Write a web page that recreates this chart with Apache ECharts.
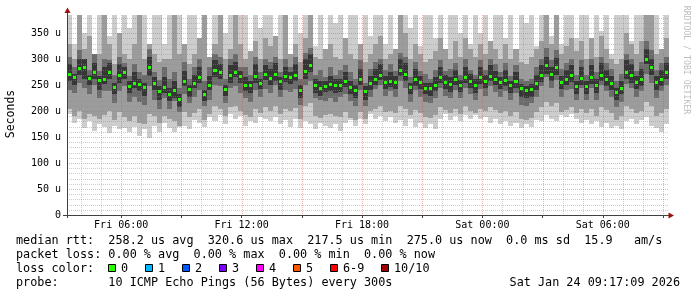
<!DOCTYPE html>
<html>
<head>
<meta charset="utf-8">
<script src="https://cdn.jsdelivr.net/npm/echarts@6/dist/echarts.min.js"></script>
<style>html,body{margin:0;padding:0;background:#fff}#c{width:697px;height:297px}</style>
</head>
<body>
<div id="c"></div>
<script>
// ---- time layout: hours since Fri 00:00, 15-minute columns ----
const startHour = 3.3;
const stepHour = 0.25;
const endHour = 33.3;

// ---- median RTT (microseconds) ----
const median = [272,265,283,285,264,275,260,262,275,246,270,276,249,254,252,246,285,255,238,247,
232,240,224,258,243,255,265,232,250,280,275,242,270,276,268,250,250,268,254,272,
264,272,258,268,266,270,240,278,288,250,244,248,252,250,250,258,246,240,262,238,
255,262,270,256,258,256,280,272,246,262,256,245,244,250,266,256,252,262,250,266,258,
250,265,258,268,262,256,260,250,258,244,240,242,255,270,288,272,285,256,262,270,
248,264,248,265,250,270,262,254,236,244,275,270,256,261,300,285,256,262,275];

// ---- smoke bands (outermost -> innermost), high and low edges ----
const outerHi = [385,330,385,350,385,310,385,385,345,385,320,385,360,385,335,385,300,385,385,330,
385,360,385,320,385,385,340,385,305,385,385,350,385,330,385,385,315,385,360,385,
385,340,385,385,310,385,350,385,385,325,385,300,385,370,385,335,385,385,315,385,
345,385,385,330,385,305,385,385,360,385,325,385,385,340,385,310,385,385,350,385,330,
385,350,385,315,385,385,340,385,300,385,370,385,325,385,385,345,385,330,385,385,
340,385,385,320,385,355,385,310,385,385,385,335,385,385,385,350,385,300,385];
const outerLo = [195,178,185,168,180,162,175,170,158,172,165,168,160,170,152,165,148,172,160,178,
168,160,170,172,165,182,178,170,188,180,192,175,195,185,190,172,180,178,188,185,
180,188,175,182,170,185,168,180,175,165,178,172,168,175,162,178,182,172,185,176,
195,185,190,180,188,178,182,172,185,170,178,168,175,165,185,195,182,190,180,192,185,
192,185,188,178,185,176,180,172,178,168,175,170,182,180,192,185,180,192,188,195,
185,178,182,175,180,170,178,168,172,165,180,185,175,182,188,172,168,160,176];
const midHi = [330,300,385,320,345,300,310,385,330,290,350,310,300,330,385,300,330,310,295,300,
300,385,310,330,290,310,340,385,305,330,385,300,320,385,330,300,315,335,300,340,
325,345,300,385,310,330,295,340,385,305,300,320,330,305,300,340,310,300,330,295,
310,330,345,300,310,320,385,350,300,330,310,295,300,315,340,320,300,335,305,340,320,
305,330,310,335,320,300,330,300,320,295,290,305,320,335,385,330,385,310,325,340,
315,335,300,340,305,345,320,300,290,300,350,330,310,335,385,385,310,320,340];
const midLo = [205,190,200,185,195,190,185,192,200,182,198,188,180,190,178,175,195,190,178,190,
185,180,172,198,188,196,205,182,195,210,205,190,208,210,200,192,188,205,196,208,
200,210,195,205,200,206,185,210,215,190,186,192,195,190,188,198,186,182,198,185,
200,205,210,198,200,196,210,205,192,202,196,188,186,192,208,202,196,205,195,210,200,
196,205,200,208,202,196,200,190,198,185,182,186,198,208,218,210,215,198,202,208,
196,205,196,205,190,208,202,196,182,190,210,205,196,200,218,210,190,196,205];
const innerHi = [305,285,318,300,280,310,278,300,298,270,305,292,268,290,275,270,320,275,260,285,
262,275,245,295,262,285,300,258,285,310,305,262,300,310,285,285,270,305,275,300,
295,305,275,300,285,305,262,312,322,270,280,265,285,270,280,288,275,262,298,255,
282,295,300,280,290,278,312,305,265,295,278,272,262,280,298,278,282,292,270,300,280,
270,298,280,300,290,275,292,268,288,262,258,262,285,300,322,298,318,282,292,300,
270,298,270,300,275,305,292,282,258,272,310,300,278,295,335,318,280,292,305];
const innerLo = [240,235,255,245,232,250,225,238,238,215,238,248,218,228,218,212,248,222,205,225,
205,220,198,232,215,228,240,210,222,250,248,215,245,248,235,225,218,240,228,242,
235,250,228,240,236,242,212,250,258,225,222,220,225,218,228,232,220,210,240,210,
228,242,250,230,238,228,258,245,218,240,228,218,215,225,245,230,225,240,225,245,232,
222,242,230,248,236,228,238,222,235,212,210,215,228,248,265,245,260,228,240,242,
222,245,222,245,222,250,238,228,208,218,252,245,228,238,272,255,225,238,250];
const coreHi = [290,272,300,300,270,292,268,285,292,255,290,285,258,275,262,255,305,265,248,265,
245,258,232,278,250,270,285,240,268,298,290,250,288,295,278,265,258,290,262,288,
282,292,265,285,275,290,250,300,310,262,258,258,268,262,262,275,258,250,282,248,
268,282,290,268,275,268,300,292,255,282,268,255,255,265,285,270,265,280,260,285,272,
262,285,270,288,278,265,280,258,275,252,248,252,270,288,305,285,302,268,280,288,
258,285,258,288,262,292,280,268,245,258,298,290,268,282,320,300,268,280,292];
const coreLo = [258,250,270,262,250,262,240,252,262,232,255,262,235,245,238,230,268,240,222,235,
220,225,208,248,228,245,255,220,240,265,262,230,255,265,255,238,235,255,242,260,
250,258,240,256,252,258,225,262,275,235,230,236,238,235,236,246,232,226,250,222,
240,250,260,242,246,242,268,258,232,248,242,232,230,238,255,242,236,250,236,255,244,
235,252,244,258,250,242,248,235,245,228,225,228,240,256,272,258,270,242,250,256,
232,250,232,252,235,258,248,240,222,232,262,255,242,248,290,270,240,248,262];

// ---- axes / ticks ----
const yMax = 385;
const yTicks = [0,50,100,150,200,250,300,350];
const yTickLabels = ['0','50 u','100 u','150 u','200 u','250 u','300 u','350 u'];
const xTickHours = [6,12,18,24,30];
const xTickLabels = ['Fri 06:00','Fri 12:00','Fri 18:00','Sat 00:00','Sat 06:00'];
const xMajorGrid = [6,9,12,15,18,21,24,27,30,33];
const xMinorGrid = [4,5,7,8,10,11,13,14,16,17,19,20,22,23,25,26,28,29,31,32];
const yMajorGrid = [50,100,150,200,250,300,350];
const yMinorGrid = [10,20,30,40,60,70,80,90,110,120,130,140,160,170,180,190,210,220,230,240,260,270,280,290,310,320,330,340,360,370,380];

// ---- legend ----
const lossColors = ['#26ff00','#00b8ff','#0059ff','#7e00ff','#ff00ff','#ff5500','#ff0000','#a10000'];
const lossLabels = ['0','1','2','3','4','5','6-9','10/10'];
const lossBoxX = [108,145,182,219,256,293,330,381];
const legendLines = [
  'median rtt:  258.2 us avg  320.6 us max  217.5 us min  275.0 us now  0.0 ms sd  15.9   am/s',
  'packet loss: 0.00 % avg  0.00 % max  0.00 % min  0.00 % now',
  'loss color:',
  'probe:       10 ICMP Echo Pings (56 Bytes) every 300s'
];
const stampText = 'Sat Jan 24 09:17:09 2026';

const MONO = '"DejaVu Sans Mono", "Liberation Mono", monospace';

const smokeData = median.map((m, i) => [startHour + (i + 0.5) * stepHour,
  outerHi[i], outerLo[i], midHi[i], midLo[i], innerHi[i], innerLo[i], coreHi[i], coreLo[i], m]);

const gridData = [];
yMinorGrid.forEach(v => gridData.push([0, v, 0]));
xMinorGrid.forEach(v => gridData.push([1, v, 0]));
yMajorGrid.forEach(v => gridData.push([0, v, 1]));
xMajorGrid.forEach(v => gridData.push([1, v, 1]));

const bandColors = ['#cdcdcd', '#9c9c9c', '#6b6b6b', '#363636'];

function renderSmoke(params, api) {
  const cs = params.coordSys;
  const t = api.value(0);
  const xa = Math.round(api.coord([t - stepHour / 2, 0])[0]);
  const xb = Math.round(api.coord([t + stepHour / 2, 0])[0]);
  const children = [];
  for (let b = 0; b < 4; b++) {
    let yt = Math.round(api.coord([t, Math.min(api.value(1 + 2 * b), yMax)])[1]);
    const yb = Math.round(api.coord([t, api.value(2 + 2 * b)])[1]);
    yt = Math.max(yt, cs.y);
    children.push({ type: 'rect', shape: { x: xa, y: yt, width: xb - xa, height: yb - yt },
      style: { fill: bandColors[b] } });
  }
  const ym = Math.round(api.coord([t, api.value(9)])[1]);
  children.push({ type: 'rect', shape: { x: xa + 1, y: ym - 1, width: Math.max(2, xb - xa - 2), height: 3 },
    style: { fill: '#26ff00' } });
  return { type: 'group', children };
}

function renderGrid(params, api) {
  const cs = params.coordSys;
  const orient = api.value(0), v = api.value(1), major = api.value(2);
  const color = major ? 'rgba(232,77,77,0.45)' : 'rgba(143,143,143,0.45)';
  let shape;
  if (orient === 0) {
    const y = Math.round(api.coord([startHour, v])[1]) + 0.5;
    shape = { x1: cs.x, y1: y, x2: cs.x + cs.width, y2: y };
  } else {
    const x = Math.round(api.coord([v, 0])[0]) + 0.5;
    shape = { x1: x, y1: cs.y, x2: x, y2: cs.y + cs.height };
  }
  return { type: 'line', shape, style: { stroke: color, lineWidth: 1, lineDash: [1, 1] } };
}

const graphics = [];
graphics.push({ type: 'line', shape: { x1: 67.5, y1: 12, x2: 67.5, y2: 218 }, style: { stroke: '#404040', lineWidth: 1 }, z: 100 });
graphics.push({ type: 'line', shape: { x1: 63, y1: 215.5, x2: 669, y2: 215.5 }, style: { stroke: '#404040', lineWidth: 1 }, z: 100 });
graphics.push({ type: 'polygon', shape: { points: [[64.5, 13], [67.5, 7.5], [70.5, 13]] }, style: { fill: '#9b1010' }, z: 101 });
graphics.push({ type: 'polygon', shape: { points: [[668.5, 212.5], [674, 215.5], [668.5, 218.5]] }, style: { fill: '#9b1010' }, z: 101 });
graphics.push({ type: 'text', x: 11, y: 114, rotation: Math.PI / 2,
  style: { text: 'Seconds', font: '11.5px ' + MONO, fill: '#000', align: 'center', verticalAlign: 'middle' } });
graphics.push({ type: 'text', x: 686, y: 60, rotation: -Math.PI / 2,
  style: { text: 'RRDTOOL / TOBI OETIKER', font: '8.2px ' + MONO, fill: '#bdbdbd', align: 'center', verticalAlign: 'middle' } });
const lineY = [241, 255, 269, 283];
legendLines.forEach((s, k) => {
  graphics.push({ type: 'text', x: 16, y: lineY[k],
    style: { text: s, font: '11.8px ' + MONO, fill: '#000', align: 'left', verticalAlign: 'middle' } });
});
graphics.push({ type: 'text', x: 680, y: lineY[3],
  style: { text: stampText, font: '11.8px ' + MONO, fill: '#000', align: 'right', verticalAlign: 'middle' } });
lossColors.forEach((c, k) => {
  graphics.push({ type: 'rect', shape: { x: lossBoxX[k] + 0.5, y: 264.5, width: 7, height: 7 },
    style: { fill: c, stroke: '#000', lineWidth: 1 } });
  graphics.push({ type: 'text', x: lossBoxX[k] + 13, y: lineY[2],
    style: { text: lossLabels[k], font: '11.8px ' + MONO, fill: '#000', align: 'left', verticalAlign: 'middle' } });
});

const chart = echarts.init(document.getElementById('c'), null, { renderer: 'canvas' });
chart.setOption({
  animation: false,
  backgroundColor: '#ffffff',
  grid: { left: 67, right: 28, top: 15, bottom: 82, containLabel: false },
  xAxis: {
    type: 'value', min: startHour, max: endHour,
    axisLine: { show: false },
    splitLine: { show: false },
    axisTick: { show: true, customValues: xMajorGrid, length: 3, lineStyle: { color: '#404040' } },
    axisLabel: {
      customValues: xTickHours, margin: 5,
      fontFamily: MONO, fontSize: 10, color: '#000',
      formatter: v => { const k = xTickHours.indexOf(Math.round(v)); return k >= 0 ? xTickLabels[k] : ''; }
    }
  },
  yAxis: {
    type: 'value', min: 0, max: yMax, interval: 50,
    axisLine: { show: false },
    splitLine: { show: false },
    axisTick: { show: false },
    axisLabel: {
      margin: 6, fontFamily: MONO, fontSize: 10, color: '#000', showMaxLabel: false,
      formatter: v => { const k = yTicks.indexOf(v); return k >= 0 ? yTickLabels[k] : ''; }
    }
  },
  series: [
    { type: 'custom', name: 'smoke', renderItem: renderSmoke, data: smokeData, clip: true, z: 2,
      encode: { x: 0, y: 9 } },
    { type: 'custom', name: 'grid', renderItem: renderGrid, data: gridData, z: 3, silent: true,
      encode: { x: 1, y: 1 } }
  ],
  graphic: graphics
});
</script>
</body>
</html>
